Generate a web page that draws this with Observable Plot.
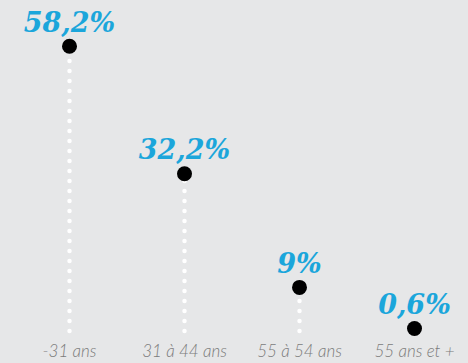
<!DOCTYPE html>
<html><head><meta charset="utf-8">
<script src="https://cdn.jsdelivr.net/npm/d3@7"></script>
<script src="https://cdn.jsdelivr.net/npm/@observablehq/plot@0.6"></script>
<style>
html,body{margin:0;padding:0;background:#e6e7e8;}
#chart{width:468px;height:363px;}
</style></head><body><div id="chart"></div>
<script>
const categories = ["-31 ans", "31 à 44 ans", "55 à 54 ans", "55 ans et +"];
const values = [58.2, 32.2, 9, 0.6];
const labels = ["58,2%", "32,2%", "9%", "0,6%"];

const data = categories.map((c, i) => ({cat: c, v: values[i], label: labels[i]}));

const chart = Plot.plot({
  width: 468,
  height: 363,
  marginTop: 0, marginBottom: 0, marginLeft: 0, marginRight: 0,
  style: {background: "#e6e7e8", overflow: "visible"},
  x: {type: "point", domain: categories, range: [68, 415], padding: 0, axis: null},
  y: {domain: [0, 60], range: [331, 37], axis: null},
  marks: [
    Plot.ruleX(data, {x: "cat", y1: 0, y2: "v", stroke: "white", strokeWidth: 4.5, strokeLinecap: "round", strokeDasharray: "0 10"}),
    Plot.dot(data, {x: "cat", y: "v", r: 7.5, fill: "black", stroke: "none"}),
    Plot.text(data, {x: "cat", y: "v", text: "label", dy: -23, fill: "#1ba6db", fontSize: 27, fontWeight: "bold", fontStyle: "italic", fontFamily: "DejaVu Serif", textAnchor: "middle"}),
    Plot.text(data, {x: "cat", y: 0, text: "cat", dy: 20, fill: "#7b7b7b", fontSize: 17, fontStyle: "italic", fontWeight: 300, fontFamily: "Lato", textAnchor: "middle"})
  ]
});
document.getElementById("chart").appendChild(chart);
</script></body></html>
